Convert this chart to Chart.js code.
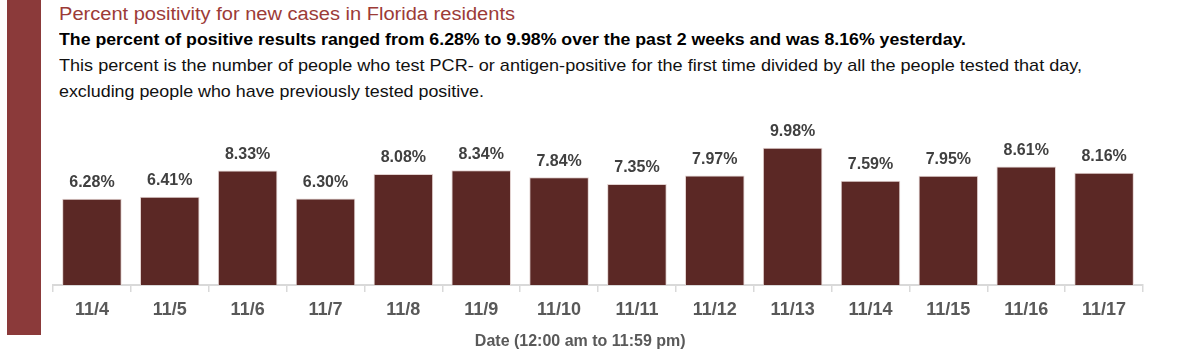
<!DOCTYPE html>
<html>
<head>
<meta charset="utf-8">
<script src="https://cdn.jsdelivr.net/npm/chart.js@4.4.1/dist/chart.umd.min.js"></script>
<style>
    html, body { margin: 0; padding: 0; background: #fff; }
    #wrap { position: relative; width: 1200px; height: 352px; overflow: hidden; }
    #stripe { position: absolute; left: 7px; top: 0; width: 34px; height: 335px; background: #8b3a3a; }
    .hdr { position: absolute; left: 59px; white-space: nowrap; line-height: 1; font-family: "Liberation Sans", Arial, sans-serif; transform-origin: 0 0; }
    #t1 { top: 5px; font-size: 18px; color: #9c3b37; }
    #t2 { top: 31px; font-size: 17px; font-weight: bold; color: #000; }
    #t3 { top: 57px; font-size: 17px; color: #111; }
    #t4 { top: 83px; font-size: 17px; color: #111; }
    #chartBox { position: absolute; left: 0; top: 0; width: 1200px; height: 352px; }
</style>
</head>
<body>
<div id="wrap">
    <div id="stripe"></div>
    <div class="hdr" id="t1" data-w="456">Percent positivity for new cases in Florida residents</div>
    <div class="hdr" id="t2" data-w="907">The percent of positive results ranged from 6.28% to 9.98% over the past 2 weeks and was 8.16% yesterday.</div>
    <div class="hdr" id="t3" data-w="1023">This percent is the number of people who test PCR- or antigen-positive for the first time divided by all the people tested that day,</div>
    <div class="hdr" id="t4" data-w="425">excluding people who have previously tested positive.</div>
    <div id="chartBox"><canvas id="positivity" width="1200" height="352"></canvas></div>
</div>
<script>
// dates (x axis)
var dates = ["11/4", "11/5", "11/6", "11/7", "11/8", "11/9", "11/10", "11/11", "11/12", "11/13", "11/14", "11/15", "11/16", "11/17"];
// percent positivity, new cases
var percentPositive = [6.28, 6.41, 8.33, 6.30, 8.08, 8.34, 7.84, 7.35, 7.97, 9.98, 7.59, 7.95, 8.61, 8.16];

// squeeze header lines to the widths in the picture
document.querySelectorAll(".hdr").forEach(function (el) {
    var target = parseFloat(el.getAttribute("data-w"));
    var w = el.getBoundingClientRect().width;
    el.style.transform = "scaleX(" + (target / w) + ")";
});

// labels on top of bars
var barLabels = {
    id: "barLabels",
    afterDatasetsDraw: function (chart) {
        var ctx = chart.ctx;
        var meta = chart.getDatasetMeta(0);
        ctx.save();
        ctx.font = "bold 16px 'Liberation Sans', Arial, sans-serif";
        ctx.fillStyle = "#404040";
        ctx.textAlign = "center";
        ctx.textBaseline = "alphabetic";
        meta.data.forEach(function (bar, i) {
            ctx.fillText(percentPositive[i].toFixed(2) + "%", bar.x, bar.y - 11.5);
        });
        ctx.restore();
    }
};

new Chart("positivity", {
    type: "bar",
    data: {
        labels: dates,
        datasets: [{
            data: percentPositive,
            backgroundColor: "#5b2825",
            borderColor: "#e2d2d0",
            borderWidth: 1,
            barPercentage: 0.765,
            categoryPercentage: 1
        }]
    },
    options: {
        responsive: false,
        animation: false,
        devicePixelRatio: 1,
        layout: { padding: { left: 53, right: 57, top: 120, bottom: 0 } },
        plugins: {
            legend: { display: false },
            tooltip: { enabled: false }
        },
        scales: {
            y: { display: false, min: 0, max: 12 },
            x: {
                afterFit: function (scale) { scale.height = 67; },
                grid: {
                    offset: true,
                    drawOnChartArea: false,
                    drawTicks: true,
                    tickLength: 7,
                    color: "#d9d9d9",
                    lineWidth: 1.5
                },
                border: { display: true, color: "#d9d9d9", width: 2 },
                ticks: {
                    padding: 7,
                    autoSkip: false,
                    maxRotation: 0,
                    color: "#595959",
                    font: { family: "'Liberation Sans', Arial, sans-serif", size: 18, weight: "bold" }
                },
                title: {
                    display: true,
                    // trailing spaces nudge the centred title a little to the left, as in the original
                    text: "Date (12:00 am to 11:59 pm)" + "        ",
                    color: "#595959",
                    padding: { top: 0, bottom: 1 },
                    font: { family: "'Liberation Sans', Arial, sans-serif", size: 16, weight: "bold" }
                }
            }
        }
    },
    plugins: [barLabels]
});
</script>
</body>
</html>
